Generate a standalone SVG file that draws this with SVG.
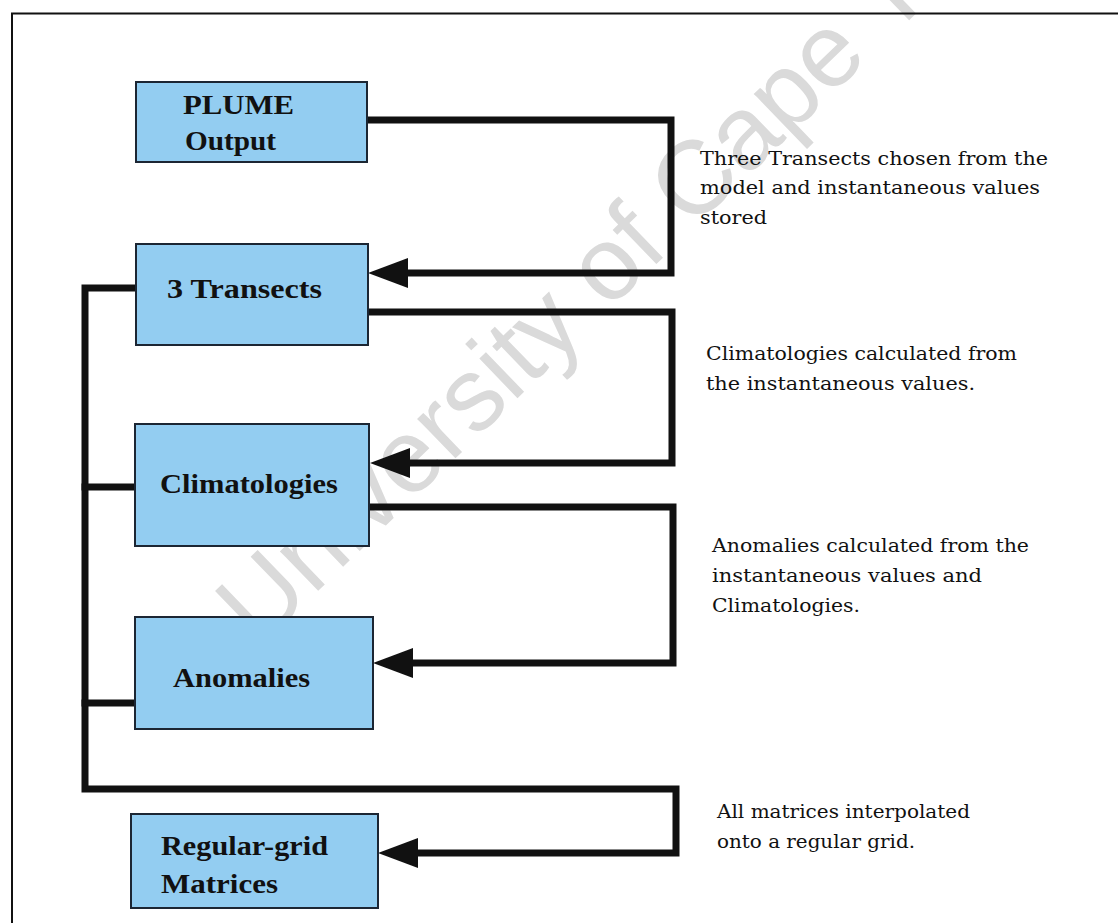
<svg xmlns="http://www.w3.org/2000/svg" width="1118" height="923" viewBox="0 0 1118 923">
<style>
.box{fill:#93cdf1;stroke:#1c2633;stroke-width:2}
.lbl{font-family:"Liberation Serif",serif;font-weight:bold;font-size:27px;fill:#111}
.note{font-family:"DejaVu Serif","Liberation Serif",serif;font-size:18px;fill:#111}
.wire{fill:none;stroke:#111;stroke-width:7;stroke-linejoin:miter;stroke-linecap:square}
.wm{font-family:"Liberation Sans",Arial,sans-serif;font-size:104px;fill:#dadada}
</style>
<rect width="1118" height="923" fill="#fff"/>
<text class="wm" x="259" y="648" transform="rotate(-44 259 648)">University of Cape Town</text>
<path d="M12,923 V13.5 H1118" fill="none" stroke="#111" stroke-width="2"/>
<g id="connectors">
<path class="wire" d="M367,120 H671 V273 H410"/>
<path d="M408,258 L368,273 L408,288 Z" fill="#111"/>
<path class="wire" d="M368,312 H672 V463 H412"/>
<path d="M410,448 L370,463 L410,478 Z" fill="#111"/>
<path class="wire" d="M369,507 H673 V663 H415"/>
<path d="M413,648 L373,663 L413,678 Z" fill="#111"/>
<path class="wire" d="M136,288 H85 V789 H676 V853 H420"/>
<path class="wire" d="M85,487 H135"/>
<path class="wire" d="M85,703 H135"/>
<path d="M418,838 L378,853 L418,868 Z" fill="#111"/>
</g>
<g id="plume">
<rect class="box" x="136" y="82" width="231" height="80"/>
<text class="lbl" x="183" y="114" textLength="111" lengthAdjust="spacingAndGlyphs">PLUME</text>
<text class="lbl" x="185" y="150" textLength="91" lengthAdjust="spacingAndGlyphs">Output</text>
</g>
<g id="transects">
<rect class="box" x="136" y="244" width="232" height="101"/>
<text class="lbl" x="167" y="298" textLength="155" lengthAdjust="spacingAndGlyphs">3 Transects</text>
</g>
<g id="climatologies">
<rect class="box" x="135" y="424" width="234" height="122"/>
<text class="lbl" x="160" y="493" textLength="178" lengthAdjust="spacingAndGlyphs">Climatologies</text>
</g>
<g id="anomalies">
<rect class="box" x="135" y="617" width="238" height="112"/>
<text class="lbl" x="173" y="687" textLength="137" lengthAdjust="spacingAndGlyphs">Anomalies</text>
</g>
<g id="regular-grid">
<rect class="box" x="131" y="814" width="247" height="94"/>
<text class="lbl" x="161" y="855" textLength="167" lengthAdjust="spacingAndGlyphs">Regular-grid</text>
<text class="lbl" x="161" y="893" textLength="117" lengthAdjust="spacingAndGlyphs">Matrices</text>
</g>
<g id="notes">
<text class="note" x="700" y="165" textLength="348" lengthAdjust="spacingAndGlyphs">Three Transects chosen from the</text>
<text class="note" x="700" y="194" textLength="340" lengthAdjust="spacingAndGlyphs">model and instantaneous values</text>
<text class="note" x="700" y="224" textLength="67" lengthAdjust="spacingAndGlyphs">stored</text>
<text class="note" x="706" y="360" textLength="311" lengthAdjust="spacingAndGlyphs">Climatologies calculated from</text>
<text class="note" x="706" y="390" textLength="269" lengthAdjust="spacingAndGlyphs">the instantaneous values.</text>
<text class="note" x="712" y="552" textLength="317" lengthAdjust="spacingAndGlyphs">Anomalies calculated from the</text>
<text class="note" x="712" y="582" textLength="270" lengthAdjust="spacingAndGlyphs">instantaneous values and</text>
<text class="note" x="712" y="612" textLength="148" lengthAdjust="spacingAndGlyphs">Climatologies.</text>
<text class="note" x="717" y="818" textLength="253" lengthAdjust="spacingAndGlyphs">All matrices interpolated</text>
<text class="note" x="717" y="848" textLength="198" lengthAdjust="spacingAndGlyphs">onto a regular grid.</text>
</g>
</svg>
